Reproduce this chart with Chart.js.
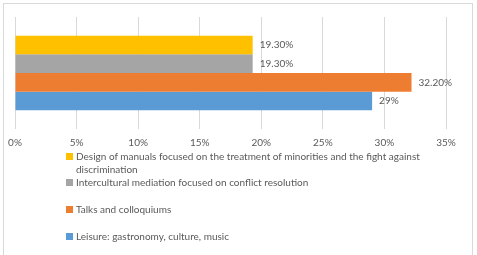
<!DOCTYPE html>
<html>
<head>
<meta charset="utf-8">
<script src="https://cdn.jsdelivr.net/npm/chart.js@4.4.1/dist/chart.umd.min.js"></script>
<style>
    html, body { margin: 0; padding: 0; background: #fff; }
    #wrap { position: relative; width: 477px; height: 255px; overflow: hidden; font-family: Lato, "Open Sans", sans-serif; }
    #frame { position: absolute; left: 3px; top: 3px; width: 470px; height: 260px; border: 1px solid #d9d9d9; box-sizing: border-box; }
    #chartBox { position: absolute; left: 0; top: 0; width: 477px; height: 159px; }
    .legend-item { position: absolute; left: 66px; width: 350px; font-size: 10px; line-height: 13px; color: #595959; padding-left: 10px; }
    .legend-item span { position: absolute; left: 0; top: 3px; width: 7px; height: 7px; }
</style>
</head>
<body>
<div id="wrap">
    <div id="frame"></div>
    <div id="chartBox"><canvas id="chart"></canvas></div>
    <div id="legend"></div>
</div>
<script>
const categories = [''];
const seriesNames = [
    'Design of manuals focused on the treatment of minorities and the fight against discrimination',
    'Intercultural mediation focused on conflict resolution',
    'Talks and colloquiums',
    'Leisure: gastronomy, culture, music'
];
const seriesValues = [19.3, 19.3, 32.2, 29];
const valueLabels = ['19.30%', '19.30%', '32.20%', '29%'];
const tickValues = [0, 5, 10, 15, 20, 25, 30, 35];
const seriesColors = ['#FFC000', '#A5A5A5', '#ED7D31', '#5B9BD5'];

// legend rows (top of first text line)
const legendTops = [150, 176, 203, 230];

const barLabels = {
    id: 'barLabels',
    afterDatasetsDraw(chart) {
        const ctx = chart.ctx;
        ctx.save();
        ctx.font = '10px Lato, "Open Sans", sans-serif';
        ctx.fillStyle = '#595959';
        ctx.textBaseline = 'middle';
        chart.data.datasets.forEach((ds, i) => {
            const bar = chart.getDatasetMeta(i).data[0];
            ctx.fillText(valueLabels[i], bar.x + 7, bar.y);
        });
        ctx.restore();
    }
};

const ctx = document.getElementById('chart').getContext('2d');
new Chart(ctx, {
    type: 'bar',
    data: {
        labels: categories,
        datasets: seriesNames.map((name, i) => ({
            label: name,
            data: [seriesValues[i]],
            backgroundColor: seriesColors[i],
            barPercentage: 1,
            categoryPercentage: 0.667
        }))
    },
    options: {
        indexAxis: 'y',
        responsive: true,
        maintainAspectRatio: false,
        animation: false,
        layout: { padding: { top: 17, left: 15, right: 31, bottom: 2 } },
        plugins: {
            legend: { display: false },
            tooltip: { enabled: false }
        },
        scales: {
            x: {
                min: 0,
                max: 35,
                afterBuildTicks: axis => { axis.ticks = tickValues.map(v => ({ value: v })); },
                grid: { color: '#d9d9d9', drawTicks: false },
                border: { display: false },
                ticks: {
                    padding: 8,
                    color: '#595959',
                    font: { family: 'Lato, "Open Sans", sans-serif', size: 10 },
                    callback: v => v + '%'
                }
            },
            y: { display: false }
        }
    },
    plugins: [barLabels]
});

const legend = document.getElementById('legend');
seriesNames.forEach((name, i) => {
    const item = document.createElement('div');
    item.className = 'legend-item';
    item.style.top = legendTops[i] + 'px';
    const box = document.createElement('span');
    box.style.background = seriesColors[i];
    item.appendChild(box);
    item.appendChild(document.createTextNode(name));
    legend.appendChild(item);
});
</script>
</body>
</html>
